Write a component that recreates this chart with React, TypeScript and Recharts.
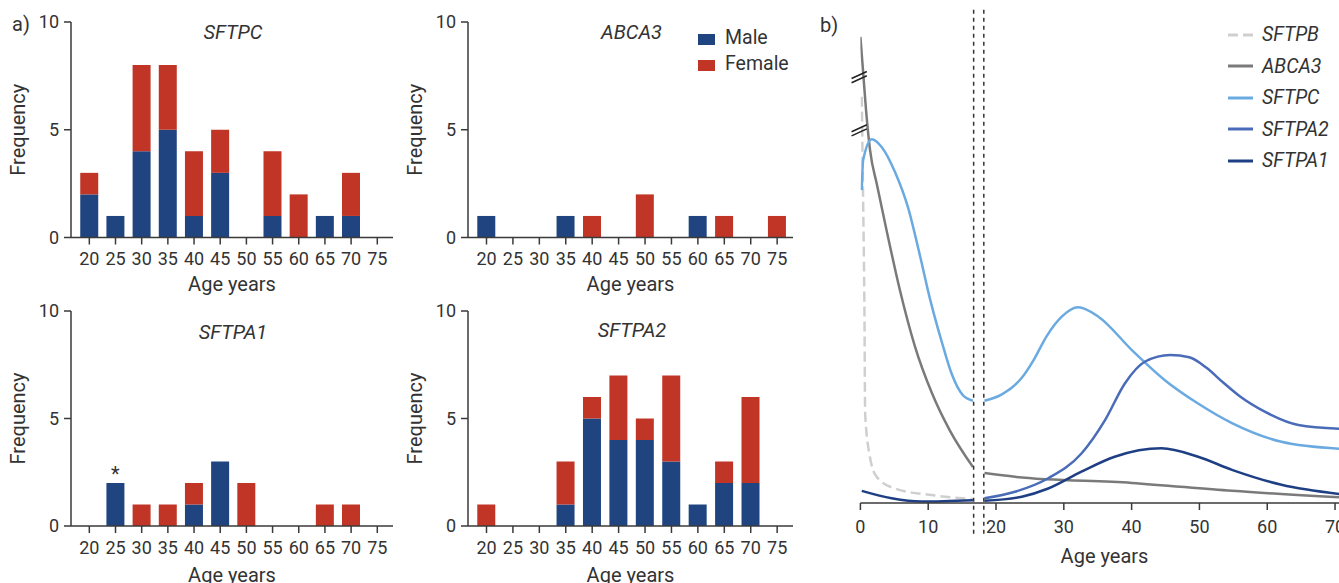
import React from 'react';
import {
  BarChart, Bar, XAxis, YAxis, LabelList, Legend,
  LineChart, Line, ReferenceLine, ReferenceArea,
} from 'recharts';

// ---------- Panel a: histogram data ----------
const ageBins = [20, 25, 30, 35, 40, 45, 50, 55, 60, 65, 70, 75];
const sftpcMale = [2, 1, 4, 5, 1, 3, 0, 1, 0, 1, 1, 0];
const sftpcFemale = [1, 0, 4, 3, 3, 2, 0, 3, 2, 0, 2, 0];
const abca3Male = [1, 0, 0, 1, 0, 0, 0, 0, 1, 0, 0, 0];
const abca3Female = [0, 0, 0, 0, 1, 0, 2, 0, 0, 1, 0, 1];
const sftpa1Male = [0, 2, 0, 0, 1, 3, 0, 0, 0, 0, 0, 0];
const sftpa1Female = [0, 0, 1, 1, 1, 0, 2, 0, 0, 1, 1, 0];
const sftpa1Notes = ['', '*', '', '', '', '', '', '', '', '', '', ''];
const sftpa2Male = [0, 0, 0, 1, 5, 4, 4, 3, 1, 2, 2, 0];
const sftpa2Female = [1, 0, 0, 2, 1, 3, 1, 4, 0, 1, 4, 0];
const freqTicks = [0, 5, 10];
const sexOrder = ['Male', 'Female'];

// ---------- Panel b: expression curves (arbitrary units) ----------
const sftpbAges = [0.2, 0.4, 0.6, 0.7, 1.4, 2.4, 5.1, 10.5, 16.6];
const sftpbVals = [87, 64.9, 40.6, 19.2, 9.9, 5.6, 3.1, 1.7, 0.85];

const abca3Ages = [0, 0.38, 0.83, 1.42, 2.45, 3.92, 5.84, 8.05, 10.56, 13.2, 16.6, 17.4, 18.3, 22.8, 40, 54.8, 70.7];
const abca3Vals = [99.8, 92.7, 84.2, 75.6, 68.1, 58.0, 45.5, 33.5, 23.5, 15.5, 7.7, null, 6.4, 5.6, 4.3, 2.6, 1.2];

const sftpcAges = [0.2, 0.4, 1.7, 3.1, 5.1, 7, 8.7, 10.3, 12, 13.5, 15.1, 16.6, 17.4, 18.3, 20.8, 23.8, 25.5, 27.5, 29.7, 32.1, 35.1, 40, 44.9, 49.8, 54.8, 62.1, 70.7];
const sftpcVals = [67, 73.4, 77.9, 76.3, 70.9, 63.4, 53.5, 43.5, 34.5, 27.5, 23.1, 21.9, null, 21.9, 23.2, 26.8, 30.5, 35.8, 39.9, 41.9, 39.9, 32.8, 26.3, 21.3, 17.1, 13.1, 11.6];

const sftpa2Ages = [18.3, 22.8, 27.7, 32.6, 36.1, 39, 42, 45.7, 48.5, 51, 53.5, 56, 59.7, 64.6, 70.7];
const sftpa2Vals = [1.0, 2.4, 5.3, 10.6, 17.8, 25.6, 30.3, 31.7, 31.2, 29.0, 25.8, 22.8, 19.5, 16.7, 15.9];

const sftpa1Ages = [0.2, 4.6, 9, 16.6, 17.4, 18.3, 23.8, 27.7, 32.6, 37.5, 44.4, 49.8, 54.8, 62.1, 70.7];
const sftpa1Vals = [2.6, 1.0, 0.3, 0.6, null, 0.5, 1.35, 3.1, 6.7, 9.9, 11.7, 9.9, 7.1, 3.9, 1.9];

const geneOrder = ['SFTPB', 'ABCA3', 'SFTPC', 'SFTPA2', 'SFTPA1'];
const ageTicks = [0, 10, 20, 30, 40, 50, 60, 70];

const FONT = 'Roboto, "DejaVu Sans", sans-serif';
const TXT = '#333';
const AX = '#3a3a3a';
const MALE = '#1f4480';
const FEMALE = '#c03526';
const SFTPB_DASH = '10 5';

const toSeries = (ages: number[], vals: (number | null)[]) =>
  ages.map((a, i) => ({ age: a, v: vals[i] }));

const buildBins = (male: number[], female: number[], notes?: string[]) =>
  ageBins.map((a, i) => ({ age: a, male: male[i], female: female[i], note: notes ? notes[i] : '' }));

const ordered = (payload: any[], order: string[]) =>
  [...payload].sort((a, b) => order.indexOf(String(a.value)) - order.indexOf(String(b.value)));

const BarLegend = (props: any) => {
  const payload = ordered(props.payload || [], sexOrder);
  return (
    <div style={{ fontFamily: FONT, fontSize: 19.5, color: TXT }}>
      {payload.map((p: any) => (
        <div key={p.value} style={{ display: 'flex', alignItems: 'center', height: 26 }}>
          <span style={{ display: 'inline-block', width: 17, height: 11, background: p.color, marginRight: 10, marginTop: 2 }} />
          <span style={{ lineHeight: '26px' }}>{p.value}</span>
        </div>
      ))}
    </div>
  );
};

const LineLegend = (props: any) => {
  const payload = ordered(props.payload || [], geneOrder);
  return (
    <div style={{ fontFamily: FONT, fontSize: 19.5, color: TXT, fontStyle: 'italic' }}>
      {payload.map((p: any) => (
        <div key={p.value} style={{ display: 'flex', alignItems: 'center', height: 31.5 }}>
          <svg width={25} height={4} style={{ marginRight: 9 }}>
            <line x1={0} y1={2} x2={25} y2={2} stroke={p.color} strokeWidth={3}
              strokeDasharray={p.value === 'SFTPB' ? SFTPB_DASH : undefined} />
          </svg>
          <span>{p.value}</span>
        </div>
      ))}
    </div>
  );
};

type HistProps = {
  left: number; top: number; width: number; height: number;
  marginTop: number; xAxisHeight: number; labelOffset: number;
  data: any[]; withLegend?: boolean; withNotes?: boolean;
};

const Histogram = (p: HistProps) => (
  <div style={{ position: 'absolute', left: p.left, top: p.top }}>
    <BarChart width={p.width} height={p.height} data={p.data}
      margin={{ top: p.marginTop, right: 7, bottom: 0, left: 0 }}>
      <XAxis dataKey="age" type="number" domain={[16.5, 78]} ticks={ageBins} interval={0}
        allowDataOverflow height={p.xAxisHeight} tickSize={7} tickMargin={8}
        axisLine={{ stroke: AX, strokeWidth: 1.5 }} tickLine={{ stroke: AX, strokeWidth: 1.5 }}
        tick={{ fill: TXT, fontSize: 18 }}
        label={{ value: 'Age years', position: 'insideBottom', offset: p.labelOffset, fill: TXT, fontSize: 20 }} />
      <YAxis type="number" domain={[0, 10]} ticks={freqTicks} interval={0} width={71}
        tickSize={7} tickMargin={5}
        axisLine={{ stroke: AX, strokeWidth: 1.5 }} tickLine={{ stroke: AX, strokeWidth: 1.5 }}
        tick={{ fill: TXT, fontSize: 18 }}
        label={{ value: 'Frequency', angle: -90, position: 'insideLeft', offset: 18, textAnchor: 'middle', fill: TXT, fontSize: 20 }} />
      {p.withLegend && (
        <Legend content={<BarLegend />} layout="vertical" verticalAlign="middle" align="center"
          wrapperStyle={{ position: 'absolute', left: 301, top: 25, width: 120, height: 52 }} />
      )}
      <Bar dataKey="male" name="Male" stackId="s" fill={MALE} barSize={18} isAnimationActive={false}>
        {p.withNotes && (
          <LabelList dataKey="note" position="top" offset={2} fill={TXT} fontSize={20} />
        )}
      </Bar>
      <Bar dataKey="female" name="Female" stackId="s" fill={FEMALE} barSize={18} isAnimationActive={false} />
    </BarChart>
  </div>
);

const Txt = (p: { x: number; y: number; children: React.ReactNode; italic?: boolean; size?: number }) => (
  <div style={{
    position: 'absolute', left: p.x, top: p.y, transform: 'translate(-50%, -50%)',
    fontFamily: FONT, fontSize: p.size || 20, lineHeight: 1, color: TXT,
    fontStyle: p.italic ? 'italic' : 'normal', whiteSpace: 'nowrap',
  }}>{p.children}</div>
);

const dashed = { stroke: '#333', strokeWidth: 1.5, strokeDasharray: '4 4' };

export default function App() {
  return (
    <div style={{
      position: 'absolute', left: 0, top: 0, width: 1339, height: 583, overflow: 'hidden',
      background: '#fff', fontFamily: FONT,
    }}>
      <Histogram left={0} top={0} width={400} height={300} marginTop={22} xAxisHeight={62.5} labelOffset={9}
        data={buildBins(sftpcMale, sftpcFemale)} />
      <Histogram left={397} top={0} width={403} height={300} marginTop={22} xAxisHeight={62.5} labelOffset={9}
        data={buildBins(abca3Male, abca3Female)} withLegend />
      <Histogram left={0} top={290} width={400} height={293} marginTop={21} xAxisHeight={57} labelOffset={1}
        data={buildBins(sftpa1Male, sftpa1Female, sftpa1Notes)} withNotes />
      <Histogram left={397} top={290} width={403} height={293} marginTop={21} xAxisHeight={57} labelOffset={1}
        data={buildBins(sftpa2Male, sftpa2Female)} />

      <Txt x={233} y={31.5} italic>SFTPC</Txt>
      <Txt x={631.5} y={31.5} italic>ABCA3</Txt>
      <Txt x={233} y={331.5} italic>SFTPA1</Txt>
      <Txt x={632} y={330} italic>SFTPA2</Txt>
      <Txt x={21} y={23.5}>a)</Txt>
      <Txt x={829} y={24.5}>b)</Txt>

      <div style={{ position: 'absolute', left: 815, top: 0 }}>
        <LineChart width={545} height={583} margin={{ top: 36, right: 11.4, bottom: 0, left: 45.4 }}>
          <XAxis dataKey="age" type="number" domain={[0, 72]} ticks={ageTicks} interval={0}
            allowDataOverflow height={80} tickSize={7} tickMargin={10}
            axisLine={{ stroke: AX, strokeWidth: 1.5 }} tickLine={{ stroke: AX, strokeWidth: 1.5 }}
            tick={{ fill: TXT, fontSize: 18 }}
            label={{ value: 'Age years', position: 'insideBottom', offset: 20, fill: TXT, fontSize: 20 }} />
          <YAxis type="number" domain={[0, 100]} allowDataOverflow width={0} tick={false} tickLine={false}
            axisLine={{ stroke: AX, strokeWidth: 1.5 }} />
          <Legend content={<LineLegend />} layout="vertical" verticalAlign="middle" align="center"
            wrapperStyle={{ position: 'absolute', left: 413, top: 19, width: 140, height: 160 }} />
          <ReferenceArea x1={16.9} x2={18.1} y1={-1.2} y2={1.2} ifOverflow="visible"
            fill="#fff" fillOpacity={1} stroke="none" />
          <Line data={toSeries(sftpbAges, sftpbVals)} dataKey="v" name="SFTPB" type="monotone"
            stroke="#cfcfcf" strokeWidth={2.5} strokeDasharray={SFTPB_DASH} dot={false} isAnimationActive={false} />
          <Line data={toSeries(abca3Ages, abca3Vals)} dataKey="v" name="ABCA3" type="monotone"
            stroke="#7a7a7a" strokeWidth={2.5} dot={false} isAnimationActive={false} />
          <Line data={toSeries(sftpcAges, sftpcVals)} dataKey="v" name="SFTPC" type="monotone"
            stroke="#6aaae0" strokeWidth={2.5} dot={false} isAnimationActive={false} />
          <Line data={toSeries(sftpa2Ages, sftpa2Vals)} dataKey="v" name="SFTPA2" type="monotone"
            stroke="#4a6cb8" strokeWidth={2.5} dot={false} isAnimationActive={false} />
          <Line data={toSeries(sftpa1Ages, sftpa1Vals)} dataKey="v" name="SFTPA1" type="monotone"
            stroke="#1f3f85" strokeWidth={2.5} dot={false} isAnimationActive={false} />
          <ReferenceLine segment={[{ x: 16.7, y: 105.6 }, { x: 16.7, y: -6.9 }]} ifOverflow="visible" {...dashed} />
          <ReferenceLine segment={[{ x: 18.2, y: 105.6 }, { x: 18.2, y: -6.9 }]} ifOverflow="visible" {...dashed} />
          <ReferenceLine segment={[{ x: -1.3, y: 90.9 }, { x: 0.95, y: 92.4 }]} ifOverflow="visible" stroke="#222" strokeWidth={1.5} />
          <ReferenceLine segment={[{ x: -1.3, y: 90.0 }, { x: 0.95, y: 91.5 }]} ifOverflow="visible" stroke="#222" strokeWidth={1.5} />
          <ReferenceLine segment={[{ x: -1.3, y: 79.5 }, { x: 0.95, y: 81.0 }]} ifOverflow="visible" stroke="#222" strokeWidth={1.5} />
          <ReferenceLine segment={[{ x: -1.3, y: 78.6 }, { x: 0.95, y: 80.1 }]} ifOverflow="visible" stroke="#222" strokeWidth={1.5} />
        </LineChart>
      </div>
    </div>
  );
}
